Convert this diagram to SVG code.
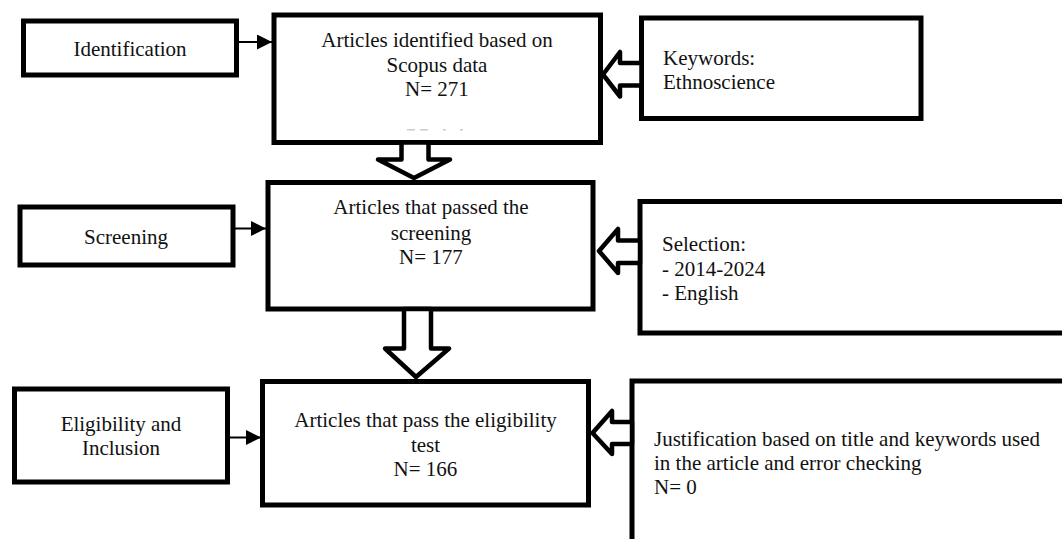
<svg xmlns="http://www.w3.org/2000/svg" width="1062" height="539" viewBox="0 0 1062 539">
<style>
.box{fill:#fff;stroke:#000;stroke-width:5}
.t{font-family:"Liberation Serif","Times New Roman",serif;font-size:21px;fill:#111}
.c{text-anchor:middle}
.blk{fill:#fff;stroke:#000;stroke-width:4.5;stroke-linejoin:round}
.ln{stroke:#000;stroke-width:2;fill:none}
</style>
<defs>
<marker id="ah" viewBox="0 0 10 10" refX="10" refY="5" markerWidth="15" markerHeight="15" markerUnits="userSpaceOnUse" orient="auto">
<path d="M0,0 L10,5 L0,10 z" fill="#000"/>
</marker>
</defs>
<rect width="1062" height="539" fill="#fff"/>

<g id="identification">
<rect class="box" x="23.5" y="21" width="213" height="54"/>
<text class="t c" x="130" y="56">Identification</text>
</g>
<g id="screening">
<rect class="box" x="20" y="207" width="213" height="58"/>
<text class="t c" x="126" y="244">Screening</text>
</g>
<g id="eligibility">
<rect class="box" x="14.5" y="389" width="213" height="93"/>
<text class="t c" x="121" y="431">Eligibility and</text>
<text class="t c" x="121" y="455">Inclusion</text>
</g>

<g id="articles-identified">
<rect class="box" x="274" y="15" width="326.5" height="127.5"/>
<text class="t c" x="437" y="47">Articles identified based on</text>
<text class="t c" x="437" y="72">Scopus data</text>
<text class="t c" x="437" y="96">N= 271</text>
<g fill="#ccc"><rect x="407" y="129" width="8" height="1.5"/><rect x="420" y="129" width="8" height="1.5"/><rect x="443" y="129" width="3" height="1.5"/><rect x="460" y="129" width="3" height="1.5"/></g>
</g>
<g id="articles-screening">
<rect class="box" x="268" y="182.5" width="325" height="126.5"/>
<text class="t c" x="431" y="214">Articles that passed the</text>
<text class="t c" x="431" y="239.5">screening</text>
<text class="t c" x="431" y="264">N= 177</text>
</g>
<g id="articles-eligibility">
<rect class="box" x="262.5" y="381.5" width="326" height="123.5"/>
<text class="t c" x="425.5" y="427">Articles that pass the eligibility</text>
<text class="t c" x="425.5" y="451.5">test</text>
<text class="t c" x="425.5" y="476">N= 166</text>
</g>

<g id="keywords">
<rect class="box" x="641.5" y="18" width="279.5" height="100.5"/>
<text class="t" x="663" y="65">Keywords:</text>
<text class="t" x="663" y="89">Ethnoscience</text>
</g>
<g id="selection">
<rect class="box" x="640" y="201.5" width="440" height="131.5"/>
<text class="t" x="662" y="251">Selection:</text>
<text class="t" x="662" y="275.5">- 2014-2024</text>
<text class="t" x="662" y="299.5">- English</text>
</g>
<g id="justification">
<rect class="box" x="632" y="381" width="450" height="180"/>
<text class="t" x="654" y="446">Justification based on title and keywords used</text>
<text class="t" x="654" y="470">in the article and error checking</text>
<text class="t" x="654" y="494">N= 0</text>
</g>

<g id="connectors">
<line class="ln" x1="237" y1="42" x2="272" y2="42" marker-end="url(#ah)"/>
<line class="ln" x1="233" y1="228.5" x2="266" y2="228.5" marker-end="url(#ah)"/>
<line class="ln" x1="228" y1="437.5" x2="261" y2="437.5" marker-end="url(#ah)"/>
<polygon class="blk" points="401.5,142.5 428.5,142.5 428.5,159.5 450,159.5 414,178 378,159.5 401.5,159.5"/>
<polygon class="blk" points="404,309 431,309 431,348.5 449,348.5 416,377 385,348.5 404,348.5"/>
<polygon class="blk" points="603,74.5 620,52 620,63 641.5,63 641.5,85.5 620,85.5 620,96.5"/>
<polygon class="blk" points="599,251 618,229 618,240.5 640,240.5 640,263 618,263 618,273"/>
<polygon class="blk" points="592.5,433 612,411 612,422 632,422 632,444 612,444 612,454"/>
</g>
</svg>
